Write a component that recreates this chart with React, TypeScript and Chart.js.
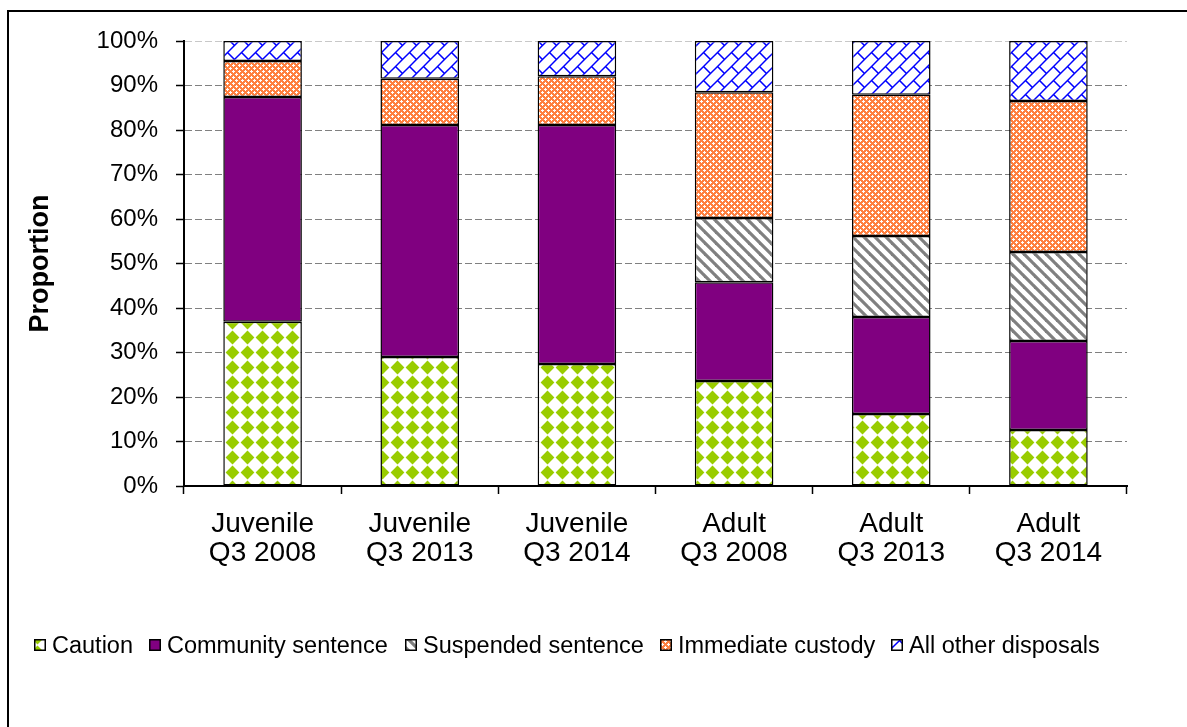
import React, { useEffect, useRef } from 'react';
import { Chart, registerables } from 'chart.js';

Chart.register(...registerables);

// ---------- data ----------
const categories: string[][] = [
  ['Juvenile', 'Q3 2008'],
  ['Juvenile', 'Q3 2013'],
  ['Juvenile', 'Q3 2014'],
  ['Adult', 'Q3 2008'],
  ['Adult', 'Q3 2013'],
  ['Adult', 'Q3 2014'],
];
const seriesLabels = ['Caution', 'Community sentence', 'Suspended sentence', 'Immediate custody', 'All other disposals'];
const caution = [36.9, 29.0, 27.4, 23.6, 16.2, 12.6];
const community = [50.5, 52.1, 53.7, 22.2, 21.8, 20.0];
const suspended = [0, 0, 0, 14.4, 18.2, 20.0];
const immediate = [8.1, 10.4, 11.0, 28.3, 31.7, 33.9];
const otherDisposals = [4.5, 8.5, 7.9, 11.5, 12.1, 13.5];
const yAxisTitle = 'Proportion';

const FONT = '"Liberation Sans", Arial, sans-serif';

function tile(size: number, draw: (g: CanvasRenderingContext2D, s: number) => void) {
  const c = document.createElement('canvas');
  c.width = size;
  c.height = size;
  const g = c.getContext('2d')!;
  draw(g, size);
  return c;
}

function makePatterns(ctx: CanvasRenderingContext2D) {
  const diamonds = tile(15, (g) => {
    g.fillStyle = '#ffffff';
    g.fillRect(0, 0, 15, 15);
    g.fillStyle = '#99CC00';
    g.beginPath();
    g.moveTo(7.5, 0.6);
    g.lineTo(14.4, 7.5);
    g.lineTo(7.5, 14.4);
    g.lineTo(0.6, 7.5);
    g.closePath();
    g.fill();
  });
  const stripes = tile(11, (g, s) => {
    g.fillStyle = '#ffffff';
    g.fillRect(0, 0, s, s);
    g.strokeStyle = '#808080';
    g.lineWidth = 3.2;
    for (let k = -1; k <= 1; k++) {
      g.beginPath();
      g.moveTo(k * s - 2, -2);
      g.lineTo(k * s + s + 2, s + 2);
      g.stroke();
    }
  });
  const confetti = tile(6, (g) => {
    g.fillStyle = '#FF8040';
    g.fillRect(0, 0, 6, 6);
    g.fillStyle = '#ffffff';
    // plus centred at (2,2)
    g.fillRect(2, 1, 1, 3);
    g.fillRect(1, 2, 3, 1);
    // plus centred at (5,5), wrapped
    g.fillRect(5, 4, 1, 2);
    g.fillRect(4, 5, 2, 1);
    g.fillRect(5, 0, 1, 1);
    g.fillRect(0, 5, 1, 1);
  });
  const brick = tile(14, (g, s) => {
    g.fillStyle = '#ffffff';
    g.fillRect(0, 0, s, s);
    g.strokeStyle = '#0000FF';
    g.lineWidth = 1.5;
    for (const c of [0, s, 2 * s]) {
      g.beginPath();
      g.moveTo(c + 2, -2);
      g.lineTo(-2, c + 2);
      g.stroke();
    }
    for (const dx of [-s, 0, s]) {
      for (const dy of [-s, 0, s]) {
        g.beginPath();
        g.moveTo(s / 4 + dx, -s / 4 + dy);
        g.lineTo((3 * s) / 4 + dx, s / 4 + dy);
        g.stroke();
      }
    }
  });
  return {
    caution: ctx.createPattern(diamonds, 'repeat')!,
    community: '#800080',
    suspended: ctx.createPattern(stripes, 'repeat')!,
    immediate: ctx.createPattern(confetti, 'repeat')!,
    other: ctx.createPattern(brick, 'repeat')!,
  };
}

export default function App() {
  const ref = useRef<HTMLCanvasElement>(null);

  useEffect(() => {
    const canvas = ref.current!;
    const ctx = canvas.getContext('2d')!;
    const p = makePatterns(ctx);
    const fills: any[] = [p.caution, p.community, p.suspended, p.immediate, p.other];
    const values = [caution, community, suspended, immediate, otherDisposals];

    const bgPlugin = {
      id: 'bgFrame',
      beforeDraw(chart: any) {
        const c = chart.ctx;
        c.save();
        c.fillStyle = '#ffffff';
        c.fillRect(0, 0, chart.width, chart.height);
        c.restore();
      },
      afterDraw(chart: any) {
        const c = chart.ctx;
        c.save();
        c.strokeStyle = '#000000';
        c.lineWidth = 2;
        c.beginPath();
        c.moveTo(8, chart.height + 2);
        c.lineTo(8, 11);
        c.lineTo(chart.width + 2, 11);
        c.stroke();
        c.restore();
      },
    };

    const legendBoxX = [34, 149, 405, 660, 891];
    const legendPlugin = {
      id: 'customLegend',
      afterDraw(chart: any) {
        const c = chart.ctx;
        c.save();
        chart.data.datasets.forEach((ds: any, i: number) => {
          const x = legendBoxX[i];
          const y = 639;
          c.fillStyle = ds.backgroundColor;
          c.fillRect(x, y, 12, 12);
          c.strokeStyle = '#000';
          c.lineWidth = 1.5;
          c.strokeRect(x + 0.75, y + 0.75, 10.5, 10.5);
          c.fillStyle = '#000';
          c.font = `23.5px ${FONT}`;
          c.textBaseline = 'alphabetic';
          c.textAlign = 'left';
          c.fillText(ds.label, x + 18, 653);
        });
        c.restore();
      },
    };

    const chart = new Chart(canvas, {
      type: 'bar',
      data: {
        labels: categories,
        datasets: seriesLabels.map((label, i) => ({
          label,
          data: values[i],
          backgroundColor: fills[i],
          borderColor: '#000000',
          borderWidth: 1.5,
          borderSkipped: false,
          categoryPercentage: 1,
          barPercentage: 0.5,
        })),
      },
      options: {
        responsive: false,
        animation: false,
        layout: { padding: { left: 0, top: 41, right: 60, bottom: 0 } },
        plugins: { legend: { display: false }, tooltip: { enabled: false } },
        scales: {
          x: {
            stacked: true,
            grid: {
              display: true,
              drawOnChartArea: false,
              drawTicks: true,
              tickLength: 8,
              tickColor: '#000000',
              tickWidth: 1.5,
              offset: true,
            },
            border: { color: '#000000', width: 2 },
            ticks: {
              color: '#000000',
              font: { family: FONT, size: 28, lineHeight: 1.06 },
              padding: 15,
              maxRotation: 0,
              autoSkip: false,
            },
            afterFit: (s: any) => {
              s.height = 241;
            },
          },
          y: {
            stacked: true,
            min: 0,
            max: 100,
            grid: {
              color: (c: any) => (c.tick && c.tick.value === 100 ? '#c8c8c8' : '#808080'),
              lineWidth: 1,
              drawTicks: true,
              tickLength: 8,
              tickColor: '#000000',
              tickWidth: 1.5,
              tickBorderDash: [],
            },
            border: { color: '#000000', width: 2, dash: [7, 3] },
            ticks: {
              stepSize: 10,
              color: '#000000',
              padding: 18,
              font: { family: FONT, size: 24 },
              callback: (v: any) => `${v}%`,
            },
            title: {
              display: true,
              text: yAxisTitle,
              color: '#000000',
              font: { family: FONT, size: 27, weight: 'bold' },
              padding: { top: 24, bottom: 0 },
            },
            afterFit: (s: any) => {
              s.width = 184;
            },
          },
        },
      },
      plugins: [bgPlugin, legendPlugin],
    } as any);

    return () => chart.destroy();
  }, []);

  return (
    <div style={{ position: 'absolute', left: 0, top: 0, width: 1187, height: 727, background: '#fff' }}>
      <canvas ref={ref} width={1187} height={727} style={{ display: 'block' }} />
    </div>
  );
}
